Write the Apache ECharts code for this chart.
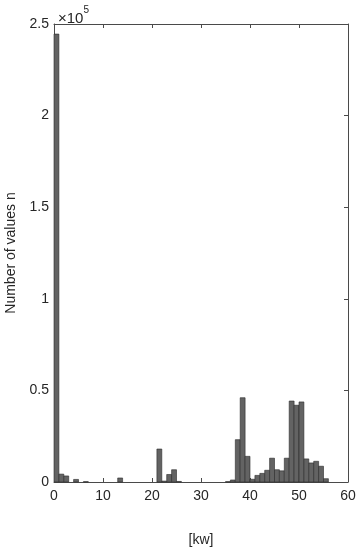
<!DOCTYPE html>
<html>
<head>
<meta charset="utf-8">
<style>
    html, body { margin: 0; padding: 0; background: #fff; }
    #chart { width: 359px; height: 550px; }
</style>
<script src="https://cdn.jsdelivr.net/npm/echarts@6/dist/echarts.min.js"></script>
</head>
<body>
<div id="chart"></div>
<script>
// bin lower edges (kw), each bin 1 kw wide
const binStarts = [
    0, 1, 2, 3, 4, 5, 6, 7, 8, 9,
    10, 11, 12, 13, 14, 15, 16, 17, 18, 19,
    20, 21, 22, 23, 24, 25, 26, 27, 28, 29,
    30, 31, 32, 33, 34, 35, 36, 37, 38, 39,
    40, 41, 42, 43, 44, 45, 46, 47, 48, 49,
    50, 51, 52, 53, 54, 55, 56, 57, 58, 59
];
// number of values per bin
const counts = [
    244500, 4300, 3300, 0, 1400, 0, 200, 0, 0, 0,
    0, 0, 0, 2200, 0, 0, 0, 0, 0, 0,
    0, 18000, 500, 4100, 6700, 300, 0, 0, 0, 0,
    0, 0, 0, 0, 0, 200, 1100, 23100, 46000, 14000,
    1500, 3600, 4700, 6400, 13000, 6700, 6100, 13000, 44200, 41900,
    43700, 12600, 10400, 11300, 8600, 1800, 0, 0, 0, 0
];
const binWidth = 1;
const xTicks = [0, 10, 20, 30, 40, 50, 60];
const yTicks = [0, 50000, 100000, 150000, 200000, 250000];

const chart = echarts.init(document.getElementById('chart'));

const font = 'Liberation Sans, Arial, sans-serif';
const axisColor = '#4a4a4a';
const textColor = '#262626';

// box axes like matlab: ticks inside, labels only bottom / left
function boxAxis(extra) {
    return Object.assign({
        type: 'value',
        axisLine: { show: true, onZero: false, lineStyle: { color: axisColor, width: 1 } },
        axisTick: { show: true, inside: true, length: 4, lineStyle: { color: axisColor } },
        splitLine: { show: false }
    }, extra);
}

const option = {
    animation: false,
    title: {
        text: '{a|×10}{b|5}',
        left: 53,
        top: 0,
        textStyle: {
            fontWeight: 'normal',
            rich: {
                a: { fontFamily: font, fontSize: 15, fontWeight: 'normal', color: textColor, verticalAlign: 'bottom', padding: [6, 0, 0, 0] },
                b: { fontFamily: font, fontSize: 10, fontWeight: 'normal', color: textColor, verticalAlign: 'top' }
            }
        }
    },
    grid: { left: 54, right: 11, top: 24, bottom: 68, containLabel: false, outerBoundsMode: 'none' },
    xAxis: [
        boxAxis({
            position: 'bottom',
            min: xTicks[0],
            max: xTicks[xTicks.length - 1],
            interval: 10,
            name: '[kw]',
            nameLocation: 'middle',
            nameGap: 51,
            nameTextStyle: { fontFamily: font, fontSize: 14, color: textColor },
            axisLabel: { fontFamily: font, fontSize: 14, color: textColor, margin: 7 }
        }),
        boxAxis({
            position: 'top',
            min: xTicks[0],
            max: xTicks[xTicks.length - 1],
            interval: 10,
            axisLabel: { show: false }
        })
    ],
    yAxis: [
        boxAxis({
            position: 'left',
            min: yTicks[0],
            max: yTicks[yTicks.length - 1],
            interval: 50000,
            name: 'Number of values n',
            nameLocation: 'middle',
            nameGap: 32,
            nameTextStyle: { fontFamily: font, fontSize: 14, color: textColor },
            axisLabel: {
                fontFamily: font, fontSize: 14, color: textColor, margin: 5,
                formatter: v => String(v / 100000)
            }
        }),
        boxAxis({
            position: 'right',
            min: yTicks[0],
            max: yTicks[yTicks.length - 1],
            interval: 50000,
            axisLabel: { show: false }
        })
    ],
    series: [{
        type: 'custom',
        xAxisIndex: 0,
        yAxisIndex: 0,
        data: binStarts.map((b, i) => [b, counts[i]]),
        renderItem: function (params, api) {
            const x0 = api.value(0);
            const n = api.value(1);
            if (n <= 0) return null;
            const p0 = api.coord([x0, n]);
            const p1 = api.coord([x0 + binWidth, 0]);
            return {
                type: 'rect',
                shape: { x: p0[0], y: p0[1], width: p1[0] - p0[0], height: p1[1] - p0[1] },
                style: { fill: '#636363', stroke: '#2a2a2a', lineWidth: 0.6 }
            };
        }
    }]
};

chart.setOption(option);
</script>
</body>
</html>
